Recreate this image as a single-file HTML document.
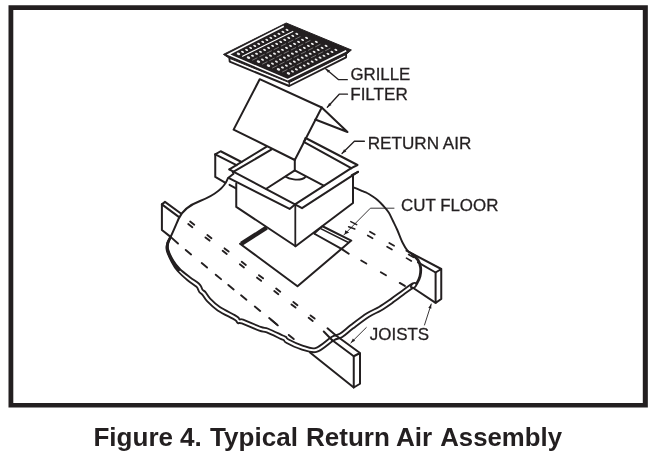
<!DOCTYPE html>
<html><head><meta charset="utf-8"><title>Figure 4</title>
<style>
html,body{margin:0;padding:0;background:#fff;}
body{width:656px;height:459px;overflow:hidden;position:relative;font-family:"Liberation Sans",sans-serif;}
svg{position:absolute;left:0;top:0;}
svg path{fill:none;stroke:#231f20;stroke-linecap:round;stroke-linejoin:round;}
svg text{font-family:"Liberation Sans",sans-serif;fill:#231f20;}
</style></head><body>
<svg style="will-change:transform" width="656" height="459" viewBox="0 0 656 459">
<path d="M8.5,5.2 H647.85 V407.6 H8.5 Z M13.3,10 V403 H642.8 V10 Z" style="fill:#231f20;stroke:none;fill-rule:evenodd"/>
<polygon points="223.4,54.4 286.2,23 351.4,50 346.2,54.4 289.3,82.6 229.4,58.3" fill="#231f20" stroke="#231f20" stroke-width="1.0" stroke-linejoin="miter"/>
<path d="M283.8,26.2 L228.4,54.5 L287.7,79.7 L346.2,50.8" style="stroke:#fff;stroke-width:1.55;stroke-linejoin:miter;stroke-linecap:butt"/>
<path d="M242.54,56.23 L292.84,31.44" style="stroke:#fff;stroke-width:1.1"/>
<path d="M252.55,60.14 L302.61,35.44" style="stroke:#fff;stroke-width:0.5;stroke-dasharray:5 3;stroke-opacity:0.75"/>
<path d="M262.55,64.05 L312.37,39.44" style="stroke:#fff;stroke-width:0.5;stroke-dasharray:5 3;stroke-opacity:0.75"/>
<path d="M272.55,67.96 L322.13,43.44" style="stroke:#fff;stroke-width:0.5;stroke-dasharray:5 3;stroke-opacity:0.75"/>
<path d="M282.56,71.87 L331.90,47.45" style="stroke:#fff;stroke-width:0.5;stroke-dasharray:5 3;stroke-opacity:0.75"/>
<ellipse cx="238.47" cy="53.81" rx="1.8" ry="1.2" fill="#fff" fill-opacity="0.92" stroke="none" transform="rotate(21 238.47 53.81)"/>
<ellipse cx="242.52" cy="51.82" rx="1.55" ry="0.95" fill="#fff" fill-opacity="0.92" stroke="none" transform="rotate(21 242.52 51.82)"/>
<ellipse cx="246.57" cy="49.83" rx="1.55" ry="0.95" fill="#fff" fill-opacity="0.92" stroke="none" transform="rotate(21 246.57 49.83)"/>
<ellipse cx="250.61" cy="47.83" rx="1.55" ry="0.95" fill="#fff" fill-opacity="0.92" stroke="none" transform="rotate(21 250.61 47.83)"/>
<ellipse cx="254.66" cy="45.84" rx="1.55" ry="0.95" fill="#fff" fill-opacity="0.92" stroke="none" transform="rotate(21 254.66 45.84)"/>
<ellipse cx="258.70" cy="43.85" rx="1.55" ry="0.95" fill="#fff" fill-opacity="0.92" stroke="none" transform="rotate(21 258.70 43.85)"/>
<ellipse cx="262.75" cy="41.86" rx="1.55" ry="0.95" fill="#fff" fill-opacity="0.92" stroke="none" transform="rotate(21 262.75 41.86)"/>
<ellipse cx="266.80" cy="39.86" rx="1.55" ry="0.95" fill="#fff" fill-opacity="0.92" stroke="none" transform="rotate(21 266.80 39.86)"/>
<ellipse cx="270.84" cy="37.87" rx="1.55" ry="0.95" fill="#fff" fill-opacity="0.92" stroke="none" transform="rotate(21 270.84 37.87)"/>
<ellipse cx="274.89" cy="35.88" rx="1.55" ry="0.95" fill="#fff" fill-opacity="0.92" stroke="none" transform="rotate(21 274.89 35.88)"/>
<ellipse cx="278.94" cy="33.89" rx="1.55" ry="0.95" fill="#fff" fill-opacity="0.92" stroke="none" transform="rotate(21 278.94 33.89)"/>
<ellipse cx="282.98" cy="31.89" rx="1.55" ry="0.95" fill="#fff" fill-opacity="0.92" stroke="none" transform="rotate(21 282.98 31.89)"/>
<ellipse cx="287.03" cy="29.90" rx="1.55" ry="0.95" fill="#fff" fill-opacity="0.92" stroke="none" transform="rotate(21 287.03 29.90)"/>
<ellipse cx="248.47" cy="57.72" rx="1.8" ry="1.2" fill="#fff" fill-opacity="0.92" stroke="none" transform="rotate(21 248.47 57.72)"/>
<ellipse cx="252.50" cy="55.74" rx="1.55" ry="0.95" fill="#fff" fill-opacity="0.92" stroke="none" transform="rotate(21 252.50 55.74)"/>
<ellipse cx="256.53" cy="53.75" rx="1.55" ry="0.95" fill="#fff" fill-opacity="0.92" stroke="none" transform="rotate(21 256.53 53.75)"/>
<ellipse cx="260.55" cy="51.77" rx="1.55" ry="0.95" fill="#fff" fill-opacity="0.92" stroke="none" transform="rotate(21 260.55 51.77)"/>
<ellipse cx="264.58" cy="49.78" rx="1.55" ry="0.95" fill="#fff" fill-opacity="0.92" stroke="none" transform="rotate(21 264.58 49.78)"/>
<ellipse cx="268.61" cy="47.80" rx="1.55" ry="0.95" fill="#fff" fill-opacity="0.92" stroke="none" transform="rotate(21 268.61 47.80)"/>
<ellipse cx="272.63" cy="45.81" rx="1.55" ry="0.95" fill="#fff" fill-opacity="0.92" stroke="none" transform="rotate(21 272.63 45.81)"/>
<ellipse cx="276.66" cy="43.83" rx="1.55" ry="0.95" fill="#fff" fill-opacity="0.92" stroke="none" transform="rotate(21 276.66 43.83)"/>
<ellipse cx="280.69" cy="41.84" rx="1.55" ry="0.95" fill="#fff" fill-opacity="0.92" stroke="none" transform="rotate(21 280.69 41.84)"/>
<ellipse cx="284.72" cy="39.86" rx="1.55" ry="0.95" fill="#fff" fill-opacity="0.92" stroke="none" transform="rotate(21 284.72 39.86)"/>
<ellipse cx="288.74" cy="37.87" rx="1.55" ry="0.95" fill="#fff" fill-opacity="0.92" stroke="none" transform="rotate(21 288.74 37.87)"/>
<ellipse cx="292.77" cy="35.89" rx="1.55" ry="0.95" fill="#fff" fill-opacity="0.92" stroke="none" transform="rotate(21 292.77 35.89)"/>
<ellipse cx="296.80" cy="33.90" rx="1.55" ry="0.95" fill="#fff" fill-opacity="0.92" stroke="none" transform="rotate(21 296.80 33.90)"/>
<ellipse cx="258.47" cy="61.64" rx="1.8" ry="1.2" fill="#fff" fill-opacity="0.92" stroke="none" transform="rotate(21 258.47 61.64)"/>
<ellipse cx="262.48" cy="59.66" rx="1.55" ry="0.95" fill="#fff" fill-opacity="0.92" stroke="none" transform="rotate(21 262.48 59.66)"/>
<ellipse cx="266.49" cy="57.68" rx="1.55" ry="0.95" fill="#fff" fill-opacity="0.92" stroke="none" transform="rotate(21 266.49 57.68)"/>
<ellipse cx="270.50" cy="55.70" rx="1.55" ry="0.95" fill="#fff" fill-opacity="0.92" stroke="none" transform="rotate(21 270.50 55.70)"/>
<ellipse cx="274.50" cy="53.72" rx="1.55" ry="0.95" fill="#fff" fill-opacity="0.92" stroke="none" transform="rotate(21 274.50 53.72)"/>
<ellipse cx="278.51" cy="51.75" rx="1.55" ry="0.95" fill="#fff" fill-opacity="0.92" stroke="none" transform="rotate(21 278.51 51.75)"/>
<ellipse cx="282.52" cy="49.77" rx="1.55" ry="0.95" fill="#fff" fill-opacity="0.92" stroke="none" transform="rotate(21 282.52 49.77)"/>
<ellipse cx="286.53" cy="47.79" rx="1.55" ry="0.95" fill="#fff" fill-opacity="0.92" stroke="none" transform="rotate(21 286.53 47.79)"/>
<ellipse cx="290.53" cy="45.81" rx="1.55" ry="0.95" fill="#fff" fill-opacity="0.92" stroke="none" transform="rotate(21 290.53 45.81)"/>
<ellipse cx="294.54" cy="43.83" rx="1.55" ry="0.95" fill="#fff" fill-opacity="0.92" stroke="none" transform="rotate(21 294.54 43.83)"/>
<ellipse cx="298.55" cy="41.86" rx="1.55" ry="0.95" fill="#fff" fill-opacity="0.92" stroke="none" transform="rotate(21 298.55 41.86)"/>
<ellipse cx="302.56" cy="39.88" rx="1.55" ry="0.95" fill="#fff" fill-opacity="0.92" stroke="none" transform="rotate(21 302.56 39.88)"/>
<ellipse cx="306.56" cy="37.90" rx="1.55" ry="0.95" fill="#fff" fill-opacity="0.92" stroke="none" transform="rotate(21 306.56 37.90)"/>
<ellipse cx="268.47" cy="65.55" rx="1.8" ry="1.2" fill="#fff" fill-opacity="0.92" stroke="none" transform="rotate(21 268.47 65.55)"/>
<ellipse cx="272.46" cy="63.58" rx="1.55" ry="0.95" fill="#fff" fill-opacity="0.92" stroke="none" transform="rotate(21 272.46 63.58)"/>
<ellipse cx="276.45" cy="61.61" rx="1.55" ry="0.95" fill="#fff" fill-opacity="0.92" stroke="none" transform="rotate(21 276.45 61.61)"/>
<ellipse cx="280.44" cy="59.64" rx="1.55" ry="0.95" fill="#fff" fill-opacity="0.92" stroke="none" transform="rotate(21 280.44 59.64)"/>
<ellipse cx="284.42" cy="57.67" rx="1.55" ry="0.95" fill="#fff" fill-opacity="0.92" stroke="none" transform="rotate(21 284.42 57.67)"/>
<ellipse cx="288.41" cy="55.70" rx="1.55" ry="0.95" fill="#fff" fill-opacity="0.92" stroke="none" transform="rotate(21 288.41 55.70)"/>
<ellipse cx="292.40" cy="53.72" rx="1.55" ry="0.95" fill="#fff" fill-opacity="0.92" stroke="none" transform="rotate(21 292.40 53.72)"/>
<ellipse cx="296.39" cy="51.75" rx="1.55" ry="0.95" fill="#fff" fill-opacity="0.92" stroke="none" transform="rotate(21 296.39 51.75)"/>
<ellipse cx="300.38" cy="49.78" rx="1.55" ry="0.95" fill="#fff" fill-opacity="0.92" stroke="none" transform="rotate(21 300.38 49.78)"/>
<ellipse cx="304.37" cy="47.81" rx="1.55" ry="0.95" fill="#fff" fill-opacity="0.92" stroke="none" transform="rotate(21 304.37 47.81)"/>
<ellipse cx="308.35" cy="45.84" rx="1.55" ry="0.95" fill="#fff" fill-opacity="0.92" stroke="none" transform="rotate(21 308.35 45.84)"/>
<ellipse cx="312.34" cy="43.87" rx="1.55" ry="0.95" fill="#fff" fill-opacity="0.92" stroke="none" transform="rotate(21 312.34 43.87)"/>
<ellipse cx="316.33" cy="41.90" rx="1.55" ry="0.95" fill="#fff" fill-opacity="0.92" stroke="none" transform="rotate(21 316.33 41.90)"/>
<ellipse cx="278.47" cy="69.46" rx="1.8" ry="1.2" fill="#fff" fill-opacity="0.92" stroke="none" transform="rotate(21 278.47 69.46)"/>
<ellipse cx="282.44" cy="67.50" rx="1.55" ry="0.95" fill="#fff" fill-opacity="0.92" stroke="none" transform="rotate(21 282.44 67.50)"/>
<ellipse cx="286.41" cy="65.53" rx="1.55" ry="0.95" fill="#fff" fill-opacity="0.92" stroke="none" transform="rotate(21 286.41 65.53)"/>
<ellipse cx="290.38" cy="63.57" rx="1.55" ry="0.95" fill="#fff" fill-opacity="0.92" stroke="none" transform="rotate(21 290.38 63.57)"/>
<ellipse cx="294.35" cy="61.61" rx="1.55" ry="0.95" fill="#fff" fill-opacity="0.92" stroke="none" transform="rotate(21 294.35 61.61)"/>
<ellipse cx="298.32" cy="59.64" rx="1.55" ry="0.95" fill="#fff" fill-opacity="0.92" stroke="none" transform="rotate(21 298.32 59.64)"/>
<ellipse cx="302.28" cy="57.68" rx="1.55" ry="0.95" fill="#fff" fill-opacity="0.92" stroke="none" transform="rotate(21 302.28 57.68)"/>
<ellipse cx="306.25" cy="55.72" rx="1.55" ry="0.95" fill="#fff" fill-opacity="0.92" stroke="none" transform="rotate(21 306.25 55.72)"/>
<ellipse cx="310.22" cy="53.75" rx="1.55" ry="0.95" fill="#fff" fill-opacity="0.92" stroke="none" transform="rotate(21 310.22 53.75)"/>
<ellipse cx="314.19" cy="51.79" rx="1.55" ry="0.95" fill="#fff" fill-opacity="0.92" stroke="none" transform="rotate(21 314.19 51.79)"/>
<ellipse cx="318.16" cy="49.83" rx="1.55" ry="0.95" fill="#fff" fill-opacity="0.92" stroke="none" transform="rotate(21 318.16 49.83)"/>
<ellipse cx="322.13" cy="47.86" rx="1.55" ry="0.95" fill="#fff" fill-opacity="0.92" stroke="none" transform="rotate(21 322.13 47.86)"/>
<ellipse cx="326.10" cy="45.90" rx="1.55" ry="0.95" fill="#fff" fill-opacity="0.92" stroke="none" transform="rotate(21 326.10 45.90)"/>
<ellipse cx="288.47" cy="73.37" rx="1.8" ry="1.2" fill="#fff" fill-opacity="0.92" stroke="none" transform="rotate(21 288.47 73.37)"/>
<ellipse cx="292.42" cy="71.42" rx="1.55" ry="0.95" fill="#fff" fill-opacity="0.92" stroke="none" transform="rotate(21 292.42 71.42)"/>
<ellipse cx="296.37" cy="69.46" rx="1.55" ry="0.95" fill="#fff" fill-opacity="0.92" stroke="none" transform="rotate(21 296.37 69.46)"/>
<ellipse cx="300.32" cy="67.51" rx="1.55" ry="0.95" fill="#fff" fill-opacity="0.92" stroke="none" transform="rotate(21 300.32 67.51)"/>
<ellipse cx="304.27" cy="65.55" rx="1.55" ry="0.95" fill="#fff" fill-opacity="0.92" stroke="none" transform="rotate(21 304.27 65.55)"/>
<ellipse cx="308.22" cy="63.59" rx="1.55" ry="0.95" fill="#fff" fill-opacity="0.92" stroke="none" transform="rotate(21 308.22 63.59)"/>
<ellipse cx="312.17" cy="61.64" rx="1.55" ry="0.95" fill="#fff" fill-opacity="0.92" stroke="none" transform="rotate(21 312.17 61.64)"/>
<ellipse cx="316.12" cy="59.68" rx="1.55" ry="0.95" fill="#fff" fill-opacity="0.92" stroke="none" transform="rotate(21 316.12 59.68)"/>
<ellipse cx="320.07" cy="57.72" rx="1.55" ry="0.95" fill="#fff" fill-opacity="0.92" stroke="none" transform="rotate(21 320.07 57.72)"/>
<ellipse cx="324.02" cy="55.77" rx="1.55" ry="0.95" fill="#fff" fill-opacity="0.92" stroke="none" transform="rotate(21 324.02 55.77)"/>
<ellipse cx="327.97" cy="53.81" rx="1.55" ry="0.95" fill="#fff" fill-opacity="0.92" stroke="none" transform="rotate(21 327.97 53.81)"/>
<ellipse cx="331.92" cy="51.85" rx="1.55" ry="0.95" fill="#fff" fill-opacity="0.92" stroke="none" transform="rotate(21 331.92 51.85)"/>
<ellipse cx="335.87" cy="49.90" rx="1.55" ry="0.95" fill="#fff" fill-opacity="0.92" stroke="none" transform="rotate(21 335.87 49.90)"/>
<path d="M229.40,58.20 L229.70,61.70 L289.20,86.00 L346.10,57.30 L346.10,54.40" stroke-width="1.9" stroke-linejoin="miter"/>
<path d="M289.20,86.00 L289.30,82.40" stroke-width="1.3" />
<path d="M259.70,79.20 L233.60,129.60 L294.80,160.00 L321.75,107.50 L259.70,79.20" stroke-width="2.0" stroke-linejoin="miter"/>
<path d="M321.75,107.50 L347.50,132.00 L315.30,119.50" stroke-width="2.0" />
<path d="M294.80,159.60 L294.80,170.40" stroke-width="2.0" />
<path d="M229.40,169.40 L266.25,146.90" stroke-width="2.0" />
<path d="M232.80,172.20 L271.25,149.60" stroke-width="2.0" />
<path d="M229.40,169.40 L233.75,171.90" stroke-width="2.0" />
<path d="M233.75,171.90 L295.00,204.40" stroke-width="2.0" />
<path d="M228.50,177.80 L289.60,208.90 L295.00,204.40" stroke-width="2.0" />
<path d="M228.50,177.80 L233.50,173.80" stroke-width="2.0" />
<path d="M305.60,138.00 L357.50,165.00 L351.25,168.20" stroke-width="2.0" />
<path d="M303.75,141.90 L351.25,168.20" stroke-width="2.0" />
<path d="M305.60,138.00 L303.75,141.90" stroke-width="1.8" />
<path d="M351.25,168.20 L295.00,204.40" stroke-width="2.0" />
<path d="M358.00,171.90 L302.00,208.20 L295.00,204.40" stroke-width="2.0" />
<path d="M358.00,171.90 L351.80,175.20" stroke-width="2.0" />
<path d="M236.25,183.50 L236.25,206.90 L295.60,246.25 L353.00,203.00 L353.00,175.50" stroke-width="2.0" />
<path d="M295.30,204.40 L295.30,246.25" stroke-width="1.8" />
<path d="M266.25,188.75 L294.80,170.40 L323.75,185.60" stroke-width="2.0" />
<path d="M285.8,176.7 C289.5,179.7 298,180.1 302,179 C303.8,178.5 304.8,177.8 305.4,176.9" stroke-width="1.9" />
<path d="M229.50,184.80 L235.50,188.20" stroke-width="1.9" />
<path d="M215.25,154.40 L220.60,151.25 L241.50,162.00" stroke-width="2.0" />
<path d="M215.25,154.40 L236.50,165.20" stroke-width="2.0" />
<path d="M215.25,154.40 L215.25,176.90 L225.50,182.80" stroke-width="2.0" />
<path d="M161.90,204.40 L165.00,201.90 L181.25,213.75" stroke-width="2.0" />
<path d="M161.90,204.40 L178.75,216.90" stroke-width="2.0" />
<path d="M161.90,204.40 L161.90,230.00 L170.60,236.90" stroke-width="2.0" />
<path d="M227.8,178.5 C224,189 214,195.5 200,201 C188,205.5 182,211 178.5,219 C175.5,226 173,232 170.6,236.9" stroke-width="2.0" />
<path d="M170.60,236.90 C170.21,237.94 168.67,240.97 168.29,243.12 C167.90,245.27 167.43,246.86 168.27,249.80 C169.12,252.74 171.44,257.56 173.37,260.76 C175.30,263.96 177.09,266.23 179.85,268.98 C182.61,271.73 186.78,274.85 189.94,277.27 C193.09,279.68 196.90,281.86 198.80,283.48 C200.70,285.10 200.70,285.95 201.33,286.99 C201.95,288.04 201.86,288.88 202.56,289.75 C203.26,290.62 204.24,290.72 205.52,292.19 C206.79,293.67 207.80,296.13 210.19,298.61 C212.58,301.09 215.78,304.33 219.87,307.09 C223.96,309.85 231.61,313.38 234.74,315.16 C237.86,316.94 237.80,317.07 238.61,317.79 C239.43,318.51 238.85,319.15 239.61,319.47 C240.37,319.79 239.65,318.48 243.16,319.71 C246.67,320.95 256.50,325.36 260.68,326.87 C264.85,328.37 264.53,327.30 268.22,328.74 C271.92,330.17 279.84,334.11 282.83,335.48 C285.82,336.85 285.28,336.35 286.16,336.97 C287.04,337.60 285.52,337.85 288.14,339.23 C290.75,340.62 297.29,343.82 301.85,345.29 C306.40,346.76 310.54,349.45 315.48,348.07 C320.42,346.69 327.37,339.44 331.49,337.02 C335.61,334.60 336.98,335.53 340.20,333.55 C343.42,331.56 346.34,328.48 350.79,325.11 C355.25,321.73 362.22,316.33 366.92,313.32 C371.62,310.30 375.12,309.31 378.98,307.03 C382.84,304.75 386.17,302.39 390.10,299.62 C394.03,296.84 398.86,293.09 402.57,290.38 C406.28,287.68 410.71,284.54 412.33,283.38" stroke-width="1.85" />
<path d="M170.60,236.90 C170.05,237.90 167.96,240.67 167.31,242.88 C166.67,245.10 166.01,247.06 166.73,250.20 C167.44,253.34 169.81,258.27 171.63,261.74 C173.45,265.21 175.00,267.94 177.65,271.02 C180.31,274.10 184.47,277.65 187.56,280.23 C190.66,282.82 194.48,285.06 196.20,286.52 C197.92,287.98 197.33,288.05 197.87,289.01 C198.41,289.96 198.67,291.28 199.44,292.25 C200.21,293.22 201.17,293.28 202.48,294.81 C203.80,296.33 204.79,298.79 207.31,301.39 C209.84,303.99 213.39,307.53 217.63,310.41 C221.87,313.28 229.70,316.91 232.76,318.64 C235.82,320.37 235.11,320.06 235.99,320.81 C236.86,321.56 237.02,322.68 237.99,323.13 C238.97,323.58 238.28,322.24 241.84,323.49 C245.39,324.74 255.17,329.14 259.32,330.63 C263.48,332.13 263.13,331.05 266.78,332.46 C270.42,333.88 278.32,337.82 281.17,339.12 C284.01,340.41 282.99,339.62 283.84,340.23 C284.69,340.84 283.46,341.29 286.26,342.77 C289.07,344.25 295.61,347.58 300.65,349.11 C305.70,350.64 311.05,353.37 316.52,351.93 C322.00,350.49 329.21,342.97 333.51,340.48 C337.81,337.98 339.02,338.98 342.30,336.95 C345.58,334.92 348.74,331.67 353.21,328.29 C357.67,324.92 364.44,319.65 369.08,316.68 C373.71,313.71 377.13,312.77 381.02,310.47 C384.91,308.17 388.42,305.69 392.40,302.88 C396.39,300.08 401.22,296.33 404.93,293.62 C408.64,290.91 413.04,287.79 414.67,286.62" stroke-width="1.85" />
<path d="M170.60,236.90 C170.13,237.92 168.32,240.82 167.80,243.00 C167.28,245.18 166.72,246.96 167.50,250.00 C168.28,253.04 170.62,257.92 172.50,261.25 C174.38,264.58 177.71,268.54 178.75,270.00" stroke-width="2.7" />
<path d="M353.00,187.20 C353.92,187.55 356.92,188.63 358.50,189.30 C360.08,189.97 361.08,190.58 362.50,191.20 C363.92,191.82 365.42,192.20 367.00,193.00 C368.58,193.80 370.25,194.83 372.00,196.00 C373.75,197.17 375.67,198.42 377.50,200.00 C379.33,201.58 381.12,203.42 383.00,205.50 C384.88,207.58 387.08,209.92 388.75,212.50 C390.42,215.08 391.57,218.08 393.00,221.00 C394.43,223.92 395.72,226.42 397.30,230.00 C398.88,233.58 400.80,239.07 402.50,242.50 C404.20,245.93 405.83,248.62 407.50,250.60 C409.17,252.58 410.75,252.83 412.50,254.40 C414.25,255.97 417.08,259.07 418.00,260.00" stroke-width="1.9" />
<path d="M412.50,254.40 C413.42,255.33 416.65,257.82 418.00,260.00 C419.35,262.18 420.27,264.79 420.60,267.50 C420.93,270.21 420.60,273.67 420.00,276.25 C419.40,278.83 417.92,281.38 417.00,283.00 C416.08,284.62 414.92,285.50 414.50,286.00" stroke-width="2.8" />
<ellipse cx="413.6" cy="285.6" rx="3.1" ry="1.9" transform="rotate(-42 413.6 285.6)" fill="#fff" stroke="#231f20" stroke-width="1.7"/>
<path d="M406.50,250.60 L441.25,269.00 L441.25,299.00 L435.60,302.80 L435.60,272.50 L441.25,269.00" stroke-width="2.0" />
<path d="M418.00,262.30 L435.60,272.50" stroke-width="2.0" />
<path d="M435.60,302.80 L412.50,287.50" stroke-width="2.0" />
<path d="M336.00,335.50 L360.00,353.00 L360.00,383.75 L353.75,387.50 L353.75,356.25 L360.00,353.00" stroke-width="2.0" />
<path d="M332.00,340.00 L353.75,356.25" stroke-width="2.0" />
<path d="M353.75,387.50 L310.00,352.50" stroke-width="2.0" />
<path d="M327.50,328.30 L336.00,335.50" stroke-width="2.0" />
<path d="M323.75,331.50 L332.00,340.00" stroke-width="2.0" />
<path d="M266.60,227.60 L241.20,243.90" stroke-width="4.3" style="stroke-linecap:butt"/>
<path d="M240.00,243.75 L297.50,286.25 L351.25,240.60 L322.50,226.25" stroke-width="2.0" />
<path d="M320.70,228.60 L348.40,242.50" stroke-width="1.6" />
<path d="M314.40,233.75 L341.50,248.90" stroke-width="2.0" />
<path d="M341.50,248.90 L348.75,253.75" stroke-width="2.0" />
<path d="M314.40,233.75 L322.50,226.25" stroke-width="1.3" />
<path d="M188.25,224.03 L192.36,227.22" stroke-width="1.9" />
<path d="M190.14,221.58 L194.25,224.77" stroke-width="1.9" />
<path d="M205.45,237.43 L209.56,240.62" stroke-width="1.9" />
<path d="M207.34,234.98 L211.45,238.17" stroke-width="1.9" />
<path d="M222.65,250.83 L226.76,254.02" stroke-width="1.9" />
<path d="M224.54,248.38 L228.65,251.57" stroke-width="1.9" />
<path d="M239.85,264.23 L243.96,267.42" stroke-width="1.9" />
<path d="M241.74,261.78 L245.85,264.97" stroke-width="1.9" />
<path d="M257.05,277.63 L261.16,280.82" stroke-width="1.9" />
<path d="M258.94,275.18 L263.05,278.37" stroke-width="1.9" />
<path d="M274.25,291.03 L278.36,294.22" stroke-width="1.9" />
<path d="M276.14,288.58 L280.25,291.77" stroke-width="1.9" />
<path d="M291.45,304.43 L295.56,307.62" stroke-width="1.9" />
<path d="M293.34,301.98 L297.45,305.17" stroke-width="1.9" />
<path d="M308.65,317.83 L312.76,321.02" stroke-width="1.9" />
<path d="M310.54,315.38 L314.65,318.57" stroke-width="1.9" />
<path d="M185.71,249.96 L191.09,254.44" stroke-width="1.9" />
<path d="M201.71,263.06 L207.09,267.54" stroke-width="1.9" />
<path d="M215.71,274.66 L221.09,279.14" stroke-width="1.9" />
<path d="M228.31,284.96 L233.69,289.44" stroke-width="1.9" />
<path d="M241.06,295.26 L246.44,299.74" stroke-width="1.9" />
<path d="M254.81,306.51 L260.19,310.99" stroke-width="1.9" />
<path d="M269.15,318.05 L276.85,324.45" stroke-width="1.9" />
<path d="M288.75,334.92 L293.75,339.08" stroke-width="1.9" />
<path d="M270.94,319.62 L277.86,325.38" stroke-width="1.9" />
<path d="M170.60,236.90 L178.00,243.50" stroke-width="1.9" />
<path d="M367.75,235.43 L372.57,238.27" stroke-width="1.7" />
<path d="M369.93,231.73 L374.75,234.57" stroke-width="1.7" />
<path d="M387.10,246.68 L391.92,249.52" stroke-width="1.7" />
<path d="M389.28,242.98 L394.10,245.82" stroke-width="1.7" />
<path d="M406.50,258.13 L411.32,260.97" stroke-width="1.7" />
<path d="M408.68,254.43 L413.50,257.27" stroke-width="1.7" />
<path d="M361.17,260.48 L366.33,263.52" stroke-width="1.9" />
<path d="M380.82,272.23 L385.98,275.27" stroke-width="1.9" />
<path d="M399.72,282.88 L404.88,285.92" stroke-width="1.9" />
<path d="M325.60,68.70 L338.60,79.70 L347.30,79.70" stroke-width="1.3" />
<path d="M327.30,107.30 L339.20,94.20 L347.50,94.20" stroke-width="1.3" />
<path d="M342.00,153.50 L354.40,141.25 L364.40,141.25" stroke-width="1.3" />
<path d="M343.80,235.00 L370.40,208.20 L394.00,208.20" stroke-width="0.9" />
<path d="M350.80,221.60 L356.70,224.60" stroke-width="1.5" />
<path d="M348.60,226.70 L354.80,229.00" stroke-width="1.5" />
<polygon points="345.2,230.3 349.2,232.6 344.6,234.4" fill="#231f20" stroke="none"/>
<path d="M366.30,327.50 L350.80,342.90" stroke-width="0.9" />
<path d="M424.50,325.00 L431.25,304.00" stroke-width="0.9" />
<polygon points="325.60,68.70 330.07,70.39 328.00,72.83" fill="#231f20" stroke="none"/>
<polygon points="327.30,107.30 329.14,102.89 331.51,105.04" fill="#231f20" stroke="none"/>
<polygon points="342.00,153.50 344.08,149.20 346.33,151.48" fill="#231f20" stroke="none"/>
<polygon points="350.80,342.90 352.86,338.59 355.12,340.86" fill="#231f20" stroke="none"/>
<polygon points="431.25,304.00 431.31,308.78 428.28,307.74" fill="#231f20" stroke="none"/>
<g font-size="17.3" stroke="#231f20" stroke-width="0.3">
<text x="350.4" y="80" textLength="59.9" lengthAdjust="spacingAndGlyphs">GRILLE</text>
<text x="350.2" y="100.25" textLength="57.6" lengthAdjust="spacingAndGlyphs">FILTER</text>
<text x="367.7" y="148.9" textLength="103.7" lengthAdjust="spacingAndGlyphs">RETURN AIR</text>
<text x="401" y="210.5" textLength="97.4" lengthAdjust="spacingAndGlyphs">CUT FLOOR</text>
<text x="369.8" y="339.7" textLength="59.4" lengthAdjust="spacingAndGlyphs">JOISTS</text>
</g>
<g font-size="25.4" font-weight="bold">
<text x="93.45" y="445.7" textLength="79.66" lengthAdjust="spacingAndGlyphs">Figure</text>
<text x="180" y="445.7" textLength="21.75" lengthAdjust="spacingAndGlyphs">4.</text>
<text x="210" y="445.7" textLength="87.9" lengthAdjust="spacingAndGlyphs">Typical</text>
<text x="305.95" y="445.7" textLength="83.93" lengthAdjust="spacingAndGlyphs">Return</text>
<text x="395.97" y="445.7" textLength="36.32" lengthAdjust="spacingAndGlyphs">Air</text>
<text x="440.24" y="445.7" textLength="121.73" lengthAdjust="spacingAndGlyphs">Assembly</text>
</g>
</svg>
</body></html>
